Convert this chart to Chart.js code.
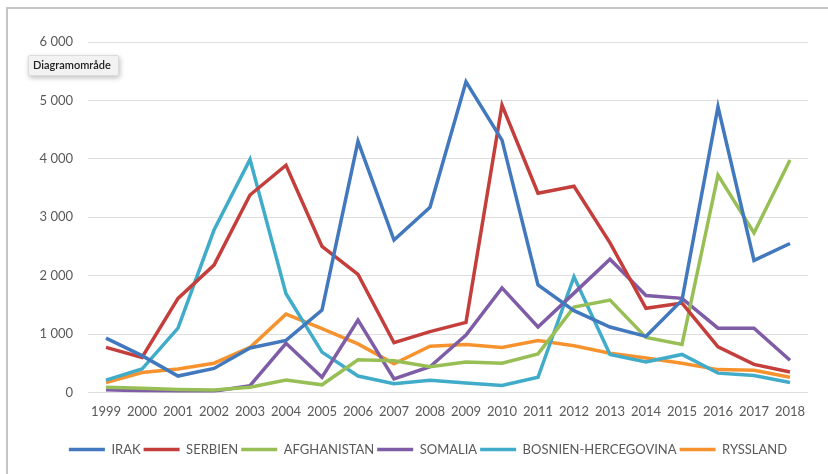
<!DOCTYPE html>
<html>
<head>
<meta charset="utf-8">
<script src="https://cdn.jsdelivr.net/npm/chart.js@4/dist/chart.umd.min.js"></script>
<style>
    html, body { margin: 0; padding: 0; background: #fff; }
    #wrap { position: relative; width: 828px; height: 474px; overflow: hidden; }
    #frame {
        position: absolute; left: 6px; top: 7px; width: 840px; height: 480px;
        border-top: 2px solid #c4c4c4; border-left: 2px solid #c4c4c4;
    }
    #tip {
        position: absolute; left: 28px; top: 55px; padding: 2px 7px 4px 4px;
        background: #f2f2f2; border: 1px solid #dcdcdc; border-radius: 2px;
        box-shadow: 1px 2px 5px rgba(0, 0, 0, 0.25);
        font: 600 11px "Lato", "Open Sans", sans-serif; color: #222;
    }
</style>
</head>
<body>
<div id="wrap">
    <canvas id="chart" width="828" height="474"></canvas>
    <div id="frame"></div>
    <div id="tip">Diagramområde</div>
</div>
<script>
// ── Data ─────────────────────────────────────────────────────────
const years = ['1999', '2000', '2001', '2002', '2003', '2004', '2005', '2006', '2007', '2008',
               '2009', '2010', '2011', '2012', '2013', '2014', '2015', '2016', '2017', '2018'];

const irak        = [930, 630, 280, 410, 760, 890, 1410, 4300, 2610, 3170, 5320, 4320, 1840, 1400, 1120, 960, 1580, 4890, 2260, 2550];
const serbien     = [770, 600, 1610, 2180, 3380, 3890, 2500, 2020, 850, 1040, 1200, 4920, 3410, 3530, 2560, 1440, 1530, 780, 480, 350];
const afghanistan = [90, 70, 50, 40, 90, 210, 130, 560, 540, 440, 520, 500, 660, 1460, 1580, 940, 820, 3720, 2730, 3980];
const somalia     = [45, 30, 20, 20, 115, 840, 260, 1240, 230, 440, 980, 1790, 1120, 1700, 2280, 1660, 1610, 1100, 1100, 550];
const bosnien     = [210, 400, 1100, 2780, 3990, 1690, 690, 280, 150, 210, 160, 120, 260, 1980, 650, 520, 650, 330, 290, 170];
const ryssland    = [170, 340, 400, 500, 770, 1340, 1090, 830, 490, 790, 820, 770, 890, 800, 670, 590, 500, 390, 380, 260];

const seriesNames  = ['IRAK', 'SERBIEN', 'AFGHANISTAN', 'SOMALIA', 'BOSNIEN-HERCEGOVINA', 'RYSSLAND'];
const seriesData   = [irak, serbien, afghanistan, somalia, bosnien, ryssland];
const seriesColors = ['#4279be', '#c43f3c', '#98bf55', '#7f5ca6', '#40acca', '#f7932f'];

// ── Chart ────────────────────────────────────────────────────────
const textColor = '#595959';
const font = { family: 'Lato, "Open Sans", sans-serif', size: 13 };

const datasets = seriesNames.map((name, i) => ({
    label: name,
    data: seriesData[i],
    borderColor: seriesColors[i],
    backgroundColor: seriesColors[i],
    borderWidth: 3.5,
    pointRadius: 0,
    tension: 0,
    fill: false
}));

// la leyenda de Excel queda algo a la derecha del centro: se desplaza tras el layout
const shiftLegend = {
    id: 'shiftLegend',
    afterLayout(chart) {
        chart.legend.left += 24;
        chart.legend.right += 24;
    }
};

new Chart(document.getElementById('chart').getContext('2d'), {
    type: 'line',
    data: { labels: years, datasets: datasets },
    plugins: [shiftLegend],
    options: {
        responsive: false,
        animation: false,
        layout: { padding: { left: 0, top: 42, right: 20, bottom: 8 } },
        scales: {
            x: {
                offset: true,
                afterFit: (scale) => { scale.height += 8; },
                grid: { display: false, drawTicks: false },
                border: { display: false },
                ticks: { color: textColor, font: font, padding: 12, maxRotation: 0, autoSkip: false }
            },
            y: {
                min: 0,
                max: 6000,
                afterFit: (scale) => { scale.width = 88; },
                grid: { color: '#dedede', lineWidth: 1, drawTicks: false },
                border: { display: false },
                ticks: {
                    stepSize: 1000,
                    color: textColor,
                    font: font,
                    padding: 15,
                    callback: (v) => v.toString().replace(/\B(?=(\d{3})+(?!\d))/g, ' ')
                }
            }
        },
        plugins: {
            tooltip: { enabled: false },
            legend: {
                display: true,
                position: 'bottom',
                labels: {
                    color: textColor,
                    font: font,
                    usePointStyle: true,
                    pointStyle: 'line',
                    pointStyleWidth: 36,
                    boxHeight: 13,
                    padding: 3
                }
            }
        }
    }
});
</script>
</body>
</html>
